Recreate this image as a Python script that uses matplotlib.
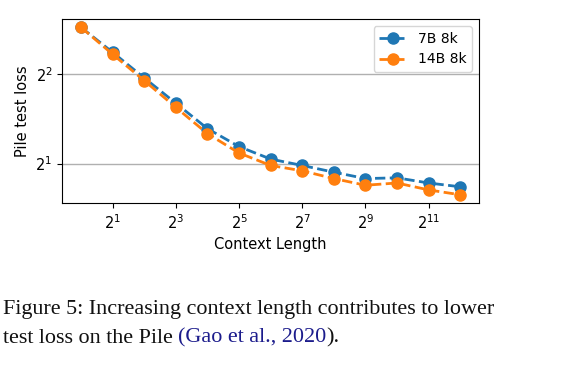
import matplotlib.pyplot as plt
from matplotlib.ticker import LogLocator, NullLocator, LogFormatterSciNotation

# context length exponents (2^0 .. 2^12)
context_pow = list(range(13))
loss_7b = [5.74, 4.73, 3.88, 3.19, 2.62, 2.28, 2.07, 1.97, 1.87, 1.78, 1.79, 1.72, 1.67]
loss_14b = [5.74, 4.66, 3.80, 3.09, 2.52, 2.17, 1.97, 1.89, 1.78, 1.69, 1.72, 1.63, 1.57]
series_labels = ["7B 8k", "14B 8k"]
x_tick_pows = [1, 3, 5, 7, 9, 11]

context_len = [2 ** p for p in context_pow]

fig = plt.figure(figsize=(5.65, 3.66), dpi=100)
ax = fig.add_axes([0.110, 0.445, 0.738, 0.503])

ax.plot(context_len, loss_7b, "--o", color="#1f77b4", lw=2, ms=8, label=series_labels[0])
ax.plot(context_len, loss_14b, "--o", color="#ff7f0e", lw=2, ms=8, label=series_labels[1])

ax.set_xscale("log", base=2)
ax.set_yscale("log", base=2)
ax.set_xticks([2 ** p for p in x_tick_pows])
ax.xaxis.set_minor_locator(NullLocator())
ax.yaxis.set_major_locator(LogLocator(base=2))
ax.yaxis.set_minor_locator(NullLocator())
ax.yaxis.set_major_formatter(LogFormatterSciNotation(base=2))
ax.xaxis.set_major_formatter(LogFormatterSciNotation(base=2))
ax.tick_params(labelsize=10.5)
ax.grid(axis="y", color="#b0b0b0", lw=1)
ax.set_axisbelow(True)

ax.set_xlabel("Context Length", fontsize=10.5)
ax.set_ylabel("Pile test loss", fontsize=10.5)
ax.legend(loc="upper right", fontsize=10)

# caption
cap_kw = dict(fontsize=15.9, family="Liberation Serif", color="#111111")
fig.text(0.005, 0.141, "Figure 5: Increasing context length contributes to lower", **cap_kw)
t1 = fig.text(0.005, 0.063, "test loss on the Pile ", **cap_kw)
t2 = ax.annotate("(Gao et al., 2020", xy=(1, 0), xycoords=t1, va="bottom",
                 fontsize=15.9, family="Liberation Serif", color="#1c1c8c")
ax.annotate(").", xy=(1, 0), xycoords=t2, va="bottom", **cap_kw)

fig.savefig("out.png", dpi=100)
